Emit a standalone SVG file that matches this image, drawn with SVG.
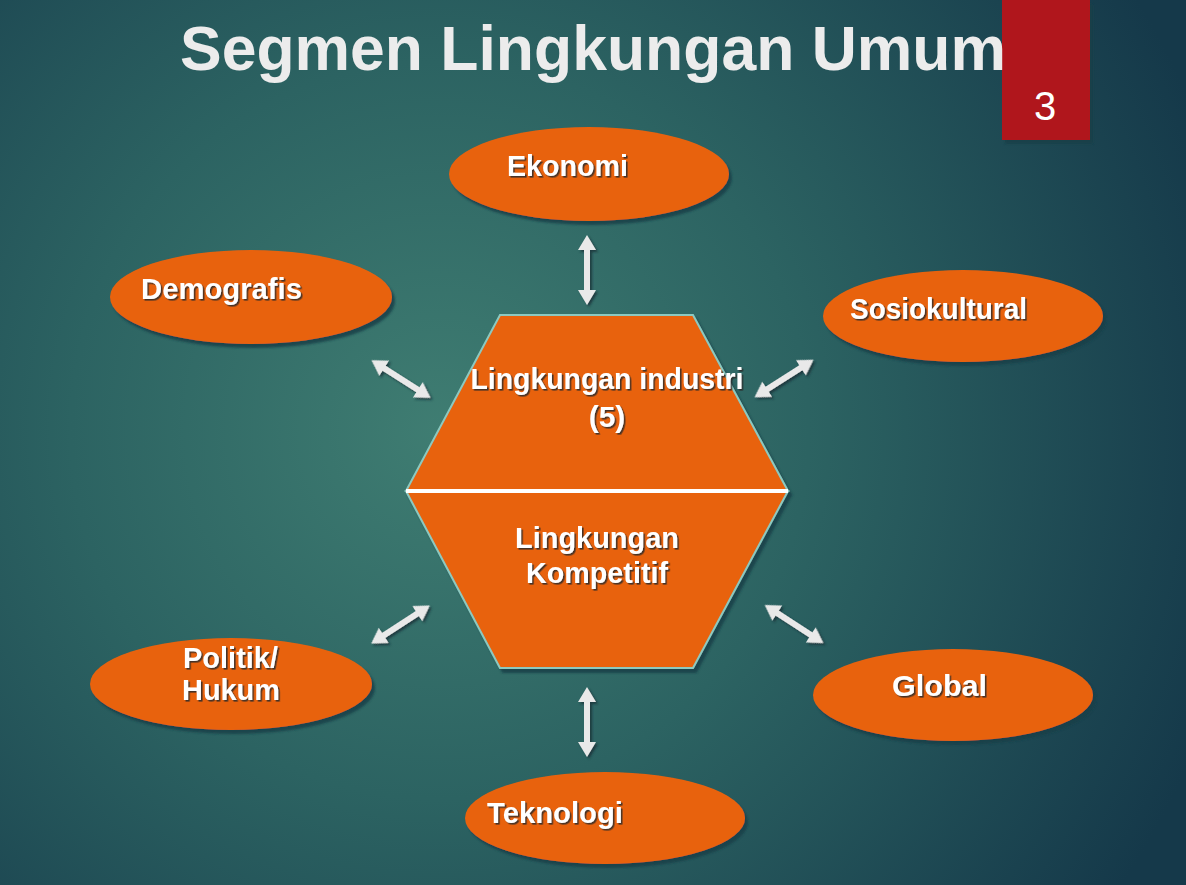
<svg xmlns="http://www.w3.org/2000/svg" xmlns:xlink="http://www.w3.org/1999/xlink" width="1186" height="885" viewBox="0 0 1186 885">
<defs>
<radialGradient id="bg" cx="440" cy="430" r="820" gradientUnits="userSpaceOnUse">
<stop offset="0" stop-color="#3f7d72"/>
<stop offset="0.45" stop-color="#2c6362"/>
<stop offset="1" stop-color="#15394a"/>
</radialGradient>
<filter id="ts" x="-10%" y="-30%" width="120%" height="160%">
<feDropShadow dx="1.6" dy="1.6" stdDeviation="0.4" flood-color="#2a2a2a" flood-opacity="0.85"/>
</filter>
<filter id="ss" x="-10%" y="-10%" width="130%" height="130%">
<feDropShadow dx="3" dy="4" stdDeviation="1" flood-color="#173f46" flood-opacity="0.85"/>
</filter>
<filter id="as" x="-20%" y="-50%" width="140%" height="200%">
<feDropShadow dx="2" dy="2" stdDeviation="1" flood-color="#123238" flood-opacity="0.8"/>
</filter>
<path id="dbl" d="M-35,0 L-20,-9 L-20,-3 L20,-3 L20,-9 L35,0 L20,9 L20,3 L-20,3 L-20,9 Z"/>
<style>
.oval{fill:#e8620f;filter:url(#ss)}
.lbl{font-family:"Liberation Sans",Arial,sans-serif;font-weight:bold;font-size:30px;fill:#ffffff;filter:url(#ts)}
.arr{fill:#e9e9e9}
</style>
</defs>
<rect x="0" y="0" width="1186" height="885" fill="url(#bg)"/>

<g id="pagebox">
<rect x="1002" y="0" width="88" height="140" fill="#b0171a" filter="url(#ss)"/>
<text x="1045" y="120" text-anchor="middle" font-family="Liberation Sans, Arial, sans-serif" font-size="40" fill="#ffffff">3</text>
</g>

<g id="title">
<text x="180" y="70" textLength="826" lengthAdjust="spacingAndGlyphs" font-family="Liberation Sans, Arial, sans-serif" font-weight="bold" font-size="63" fill="#ececec">Segmen Lingkungan Umum</text>
</g>

<g id="connectors" filter="url(#as)">
<use href="#dbl" class="arr" transform="translate(587,270) rotate(90)"/>
<use href="#dbl" class="arr" transform="translate(587,722) rotate(90)"/>
<use href="#dbl" class="arr" transform="translate(401,379) rotate(32.5)"/>
<use href="#dbl" class="arr" transform="translate(784,378.5) rotate(-32.5)"/>
<use href="#dbl" class="arr" transform="translate(400.5,624.5) rotate(-33)"/>
<use href="#dbl" class="arr" transform="translate(794,624) rotate(33)"/>
</g>

<g id="center">
<g filter="url(#ss)">
<polygon points="500,315 693,315 788,491 406,491" fill="#e8620f" stroke="#8cc9c0" stroke-width="2"/>
<polygon points="406,491 788,491 693,668 500,668" fill="#e8620f" stroke="#8cc9c0" stroke-width="2"/>
</g>
<line x1="406" y1="491" x2="788" y2="491" stroke="#ffffff" stroke-width="4"/>
<text class="lbl" x="607" y="389" text-anchor="middle" textLength="273" lengthAdjust="spacingAndGlyphs">Lingkungan industri</text>
<text class="lbl" x="607" y="427" text-anchor="middle">(5)</text>
<text class="lbl" x="597" y="548" text-anchor="middle" textLength="164" lengthAdjust="spacingAndGlyphs">Lingkungan</text>
<text class="lbl" x="597" y="583" text-anchor="middle" textLength="142" lengthAdjust="spacingAndGlyphs">Kompetitif</text>
</g>

<g id="ekonomi">
<ellipse class="oval" cx="589" cy="174" rx="140" ry="47"/>
<text class="lbl" x="507" y="176" textLength="121" lengthAdjust="spacingAndGlyphs">Ekonomi</text>
</g>

<g id="demografis">
<ellipse class="oval" cx="251" cy="297" rx="141" ry="47"/>
<text class="lbl" x="141" y="299" textLength="161" lengthAdjust="spacingAndGlyphs">Demografis</text>
</g>

<g id="sosiokultural">
<ellipse class="oval" cx="963" cy="316" rx="140" ry="46"/>
<text class="lbl" x="850" y="319" textLength="177" lengthAdjust="spacingAndGlyphs">Sosiokultural</text>
</g>

<g id="politik">
<ellipse class="oval" cx="231" cy="684" rx="141" ry="46"/>
<text class="lbl" x="183" y="668" textLength="95" lengthAdjust="spacingAndGlyphs">Politik/</text>
<text class="lbl" x="182" y="700" textLength="98" lengthAdjust="spacingAndGlyphs">Hukum</text>
</g>

<g id="global">
<ellipse class="oval" cx="953" cy="695" rx="140" ry="46"/>
<text class="lbl" x="892" y="696" textLength="95" lengthAdjust="spacingAndGlyphs">Global</text>
</g>

<g id="teknologi">
<ellipse class="oval" cx="605" cy="818" rx="140" ry="46"/>
<text class="lbl" x="487" y="823" textLength="136" lengthAdjust="spacingAndGlyphs">Teknologi</text>
</g>
</svg>
